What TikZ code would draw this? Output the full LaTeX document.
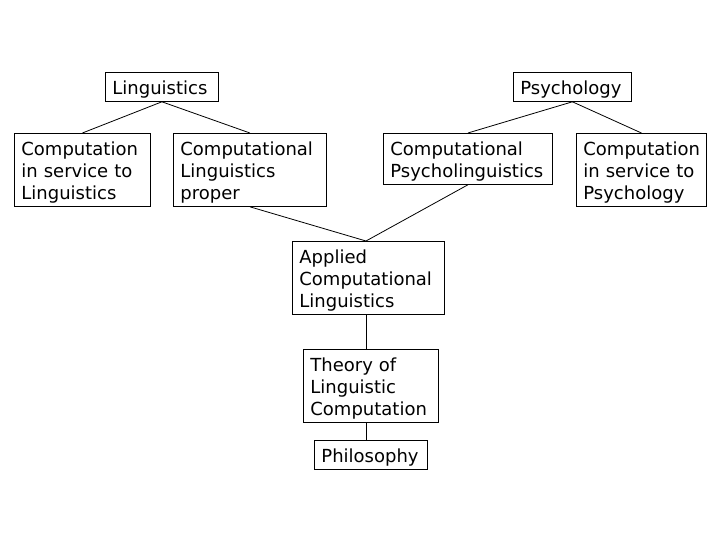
\documentclass[tikz,border=0pt]{standalone}
\usepackage{fontspec}
\setmainfont{DejaVu Sans}
\begin{document}
\begin{tikzpicture}[x=1pt,y=-1pt,
  bx/.style 2 args={draw, anchor=north west, align=left, inner xsep=7pt, inner ysep=3.5pt,
    text width=#1, text height=18.5pt, text depth=#2, line width=0.8pt,
    font=\fontsize{18}{22}\selectfont},
  conn/.style={line width=0.8pt}]
\useasboundingbox (0,0) rectangle (720,540);
\node[bx={99pt}{3.5pt}] (ling) at (105,72) {Linguistics};
\node[bx={104pt}{3.5pt}] (psy) at (513,72) {Psychology};
\node[bx={122pt}{47.5pt}] (cs1) at (14,133) {Computation\\in service to\\Linguistics};
\node[bx={139pt}{47.5pt}] (clp) at (173,133) {Computational\\Linguistics\\proper};
\node[bx={155pt}{25.5pt}] (cpl) at (383,133) {Computational\\Psycholinguistics};
\node[bx={116pt}{47.5pt}] (cs2) at (576,133) {Computation\\in service to\\Psychology};
\node[bx={138pt}{47.5pt}] (acl) at (292,241) {Applied\\Computational\\Linguistics};
\node[bx={121pt}{47.5pt}] (tlc) at (303,349) {Theory of\\Linguistic\\Computation};
\node[bx={99pt}{3.5pt}] (phil) at (314,440) {Philosophy};
\coordinate (ax) at (366,0);
\draw[conn] (ling.south) -- (cs1.north);
\draw[conn] (ling.south) -- (clp.north);
\draw[conn] (psy.south) -- (cpl.north);
\draw[conn] (psy.south) -- (cs2.north);
\draw[conn] (clp.south) -- (ax |- acl.north);
\draw[conn] (cpl.south) -- (ax |- acl.north);
\draw[conn] (ax |- acl.south) -- (ax |- tlc.north);
\draw[conn] (ax |- tlc.south) -- (ax |- phil.north);
\end{tikzpicture}
\end{document}
